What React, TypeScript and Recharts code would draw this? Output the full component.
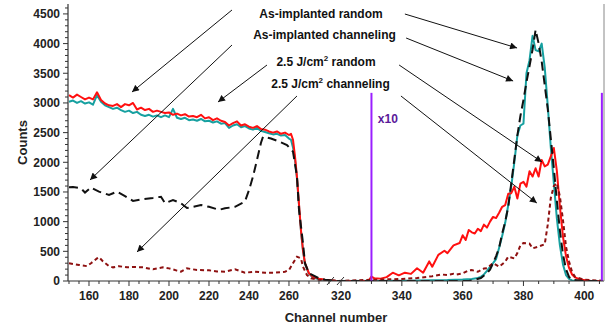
import { LineChart, Line, XAxis, YAxis, ReferenceLine, ReferenceDot } from 'recharts';

// the channel axis is broken: 150-283 on the left, 318-406.5 on the right (stretched x1.52)
const BREAK_LO = 283;
const BREAK_HI = 318;
const RIGHT_STRETCH = 1.52;
const toU = (ch: number) => (ch <= BREAK_LO ? ch : BREAK_LO + (ch - BREAK_HI) * RIGHT_STRETCH);

const CH_MIN = 149.5;
const CH_MAX = 406.5;
const COUNTS_MAX = 4667;

const xMajorTicks = [160, 180, 200, 220, 240, 260, 320, 340, 360, 380, 400];
const yMajorTicks = [0, 500, 1000, 1500, 2000, 2500, 3000, 3500, 4000, 4500];

// [channel, counts]
const asImplRandom: [number, number][] = [
    [150, 3020], [152, 3040], [154, 3000], [156, 3030], [158, 2990], [160, 3010], [162, 2970], [164, 3130],
    [166, 3020], [168, 2960], [170, 2930], [172, 2900], [174, 2920], [176, 2880], [178, 2850], [180, 2870],
    [182, 2830], [184, 2850], [186, 2800], [188, 2780], [190, 2800], [192, 2770], [194, 2790], [196, 2760],
    [198, 2790], [200, 2760], [202, 2900], [204, 2750], [206, 2730], [208, 2750], [210, 2710], [212, 2720],
    [214, 2700], [216, 2730], [218, 2690], [220, 2700], [222, 2670], [224, 2690], [226, 2650], [228, 2660],
    [230, 2580], [232, 2620], [234, 2640], [236, 2590], [238, 2610], [240, 2570], [242, 2550], [244, 2580],
    [246, 2530], [248, 2510], [250, 2490], [252, 2470], [254, 2480], [256, 2450], [258, 2460], [260, 2400],
    [261, 2380], [262, 2250], [263, 2050], [264, 1720], [265, 1280], [266, 840], [267, 510], [268, 290],
    [270, 120], [272, 60], [275, 30], [278, 15], [283, 5],
    [318, 0], [340, 5], [355, 15], [360, 25], [363, 35], [365, 50], [366, 70], [367, 110], [368, 170],
    [369, 240], [370, 300], [371, 370], [372, 560], [373, 760], [374, 980], [375, 1280], [376, 1600],
    [377, 2000], [378, 2450], [379, 2620], [380, 2650], [381, 3500], [382, 3720], [383, 4130], [384, 3890],
    [385, 3870], [386, 4000], [387, 3600], [388, 2950], [389, 2250], [390, 1650], [391, 1050], [392, 600],
    [393, 280], [394, 100], [395, 35], [396, 10], [400, 3], [406, 0],
];

const asImplChanneling: [number, number][] = [
    [150, 1580], [152, 1585], [156, 1560], [158, 1490], [161, 1575], [165, 1505], [170, 1450], [174, 1505],
    [178, 1430], [182, 1350], [187, 1380], [192, 1400], [196, 1420], [198, 1310], [202, 1365], [206, 1310],
    [209, 1230], [212, 1250], [216, 1280], [220, 1250], [225, 1200], [228, 1225], [233, 1250], [238, 1340],
    [240, 1530], [242, 1760], [244, 2040], [246, 2330], [247, 2430], [251, 2400], [255, 2350], [259, 2290],
    [262, 2180], [264, 1760], [265, 1200], [267, 640], [268, 300], [270, 130], [275, 45], [278, 20], [283, 5],
    [318, 0], [362, 0], [364, 20], [366, 50], [368, 130], [369, 190], [370, 300], [371, 420], [372, 560],
    [373, 800], [374, 1000], [375, 1250], [376, 1650], [377, 2050], [378, 2450], [379, 2780], [380, 3050],
    [381, 3350], [382, 3620], [383, 3900], [384, 4230], [385, 4000], [386, 3700], [387, 3300], [388, 2900],
    [389, 2400], [390, 1900], [391, 1350], [392, 850], [393, 450], [394, 200], [395, 70], [396, 20],
    [400, 0], [406, 0],
];

const laserRandom: [number, number][] = [
    [150, 3130], [152, 3090], [154, 3140], [156, 3100], [158, 3060], [160, 3090], [162, 3060], [164, 3180],
    [166, 3050], [168, 2990], [170, 2960], [172, 2950], [174, 2980], [176, 2930], [178, 2980], [180, 2960],
    [182, 3000], [184, 2890], [186, 2920], [188, 2880], [190, 2900], [192, 2850], [194, 2870], [196, 2850],
    [198, 2830], [200, 2840], [202, 2800], [204, 2820], [206, 2790], [208, 2810], [210, 2770], [212, 2780],
    [214, 2760], [216, 2800], [218, 2740], [220, 2760], [222, 2710], [224, 2740], [226, 2700], [228, 2680],
    [230, 2620], [232, 2660], [234, 2690], [236, 2620], [238, 2640], [240, 2600], [242, 2580], [244, 2610],
    [246, 2560], [248, 2550], [250, 2520], [252, 2500], [254, 2520], [256, 2480], [258, 2500], [260, 2460],
    [261, 2480], [262, 2380], [263, 2100], [264, 1750], [265, 1300], [266, 850], [267, 520], [268, 300],
    [270, 130], [272, 70], [275, 40], [278, 20], [283, 5],
    [318, 0], [329, 0], [330, 75], [331, 45], [333, 40], [335, 65], [337, 140], [339, 95], [341, 140],
    [343, 120], [345, 215], [347, 140], [349, 330], [350, 240], [352, 440], [354, 510], [355, 470],
    [357, 600], [359, 640], [360, 770], [361, 690], [362, 860], [363, 820], [364, 800], [365, 880],
    [366, 840], [367, 950], [368, 900], [369, 1000], [370, 1080], [371, 1060], [372, 1150], [373, 1250],
    [374, 1280], [375, 1470], [376, 1480], [377, 1590], [378, 1390], [379, 1640], [380, 1670], [381, 1590],
    [382, 1850], [383, 1760], [384, 1900], [385, 1760], [386, 2040], [387, 1930], [388, 1960], [389, 2100],
    [390, 2240], [391, 1850], [392, 1250], [393, 750], [394, 420], [395, 220], [396, 110], [397, 60],
    [399, 20], [402, 5], [406, 0],
];

const laserChanneling: [number, number][] = [
    [150, 300], [155, 270], [159, 250], [161, 300], [164, 380], [165, 400], [167, 330], [170, 250],
    [172, 230], [175, 250], [179, 230], [182, 236], [187, 230], [192, 197], [197, 230], [200, 213],
    [204, 175], [206, 157], [209, 213], [214, 185], [220, 180], [224, 160], [228, 157], [233, 197],
    [238, 140], [243, 157], [248, 140], [253, 140], [258, 157], [260, 185], [262, 300], [264, 410],
    [266, 380], [267, 240], [269, 100], [271, 45], [275, 20], [283, 5],
    [318, 0], [330, 20], [340, 35], [345, 50], [350, 80], [353, 110], [355, 100], [357, 120], [358, 110],
    [360, 130], [362, 180], [363, 185], [365, 155], [367, 210], [368, 215], [370, 300], [372, 240],
    [374, 325], [375, 410], [377, 380], [378, 470], [379, 600], [380, 640], [382, 630], [383, 550],
    [385, 580], [387, 620], [388, 950], [389, 1400], [390, 1600], [391, 1650], [392, 1420], [393, 1030],
    [394, 580], [395, 330], [396, 150], [397, 70], [400, 20], [406, 5],
];

// x10 region markers
const x10Channels = [330, 405.8];
const x10Height = 3170;

// annotation arrows: [channel, counts] start -> end
const arrows: { from: [number, number]; to: [number, number] }[] = [
    { from: [231.5, 4566], to: [181.5, 3184] },
    { from: [341, 4498], to: [377.9, 3926] },
    { from: [231.5, 3976], to: [160.5, 1702] },
    { from: [341.4, 4094], to: [376.6, 3370] },
    { from: [249, 3639], to: [224.5, 3016] },
    { from: [339.1, 3639], to: [386.1, 2005] },
    { from: [264, 3117], to: [184, 489] },
    { from: [339.7, 3117], to: [384.4, 1314] },
];

const notes = [
    { ch: 276, counts: 4439, pre: 'As-implanted random' },
    { ch: 277.75, counts: 4077, pre: 'As-implanted channeling' },
    { ch: 278.5, counts: 3622, pre: '2.5 J/cm', sup: '2', post: ' random' },
    { ch: 280.75, counts: 3252, pre: '2.5 J/cm', sup: '2', post: ' channeling' },
];

const FONT = '"Liberation Sans", Arial, sans-serif';

const toPoints = (pairs: [number, number][]) => pairs.map(([ch, counts]) => ({ u: toU(ch), counts }));

const xMinor: number[] = [];
for (let c = 150; c <= 280; c += 5) xMinor.push(c);
for (let c = 320; c <= 405; c += 5) xMinor.push(c);
const xLabelByKey = new Map(xMajorTicks.map((c) => [Math.round(toU(c) * 100), String(c)]));
const xTicks = Array.from(new Set([...xMinor, ...xMajorTicks])).map(toU);

const yTicks: number[] = [];
for (let v = 0; v <= 4600; v += 100) yTicks.push(v);

function XTick(props: any) {
    const { x, y, payload } = props;
    const label = xLabelByKey.get(Math.round(payload.value * 100));
    return (
        <g>
            <line x1={x} x2={x} y1={y} y2={y + (label ? 5 : 3)} stroke="#333" strokeWidth={1} />
            {label && (
                <text x={x} y={y + 18.5} textAnchor="middle" fontFamily={FONT} fontWeight="bold" fontSize={12} fill="#222">
                    {label}
                </text>
            )}
        </g>
    );
}

function YTick(props: any) {
    const { x, y, payload } = props;
    const major = payload.value % 500 === 0;
    return (
        <g>
            <line x1={x - (major ? 5 : 3)} x2={x} y1={y} y2={y} stroke="#333" strokeWidth={1} />
            {major && (
                <text x={x - 8} y={y + 4.3} textAnchor="end" fontFamily={FONT} fontWeight="bold" fontSize={12} fill="#222">
                    {payload.value}
                </text>
            )}
        </g>
    );
}

export default function App() {
    return (
        <div style={{ position: 'absolute', left: 0, top: 0, width: 606, height: 324, background: '#fff' }}>
            <LineChart width={606} height={324} margin={{ top: 4, right: 0, bottom: 0, left: 0 }}>
                <defs>
                    <marker id="arrowHead" viewBox="0 0 10 10" refX="10" refY="5" markerWidth="9" markerHeight="7"
                        markerUnits="userSpaceOnUse" orient="auto">
                        <path d="M0,0 L10,5 L0,10 z" fill="#111" />
                    </marker>
                </defs>
                <XAxis
                    type="number"
                    dataKey="u"
                    domain={[toU(CH_MIN), toU(CH_MAX)]}
                    allowDataOverflow
                    ticks={xTicks}
                    interval={0}
                    tick={(p: any) => <XTick {...p} />}
                    tickSize={0}
                    tickMargin={0}
                    tickLine={false}
                    axisLine={{ stroke: '#333', strokeWidth: 1.2 }}
                    height={43}
                    label={{
                        content: ({ viewBox }: any) => (
                            <text x={viewBox.x + viewBox.width / 2} y={viewBox.y + 40.5} textAnchor="middle"
                                fontFamily={FONT} fontWeight="bold" fontSize={13} fill="#222">
                                Channel number
                            </text>
                        ),
                    }}
                />
                <XAxis xAxisId="top" orientation="top" type="number" domain={[0, 1]} height={0}
                    tick={false} tickLine={false} axisLine={{ stroke: '#888' }} />
                <YAxis
                    type="number"
                    domain={[0, COUNTS_MAX]}
                    allowDataOverflow
                    ticks={yTicks}
                    interval={0}
                    tick={(p: any) => <YTick {...p} />}
                    tickSize={0}
                    tickMargin={0}
                    tickLine={false}
                    axisLine={{ stroke: '#333', strokeWidth: 1.2 }}
                    width={68}
                    label={{
                        content: ({ viewBox }: any) => {
                            const cx = viewBox.x + 27;
                            const cy = viewBox.y + viewBox.height / 2;
                            return (
                                <text x={cx} y={cy} transform={`rotate(-90 ${cx} ${cy})`} textAnchor="middle"
                                    fontFamily={FONT} fontWeight="bold" fontSize={13} fill="#222">
                                    Counts
                                </text>
                            );
                        },
                    }}
                />
                <YAxis yAxisId="right" orientation="right" type="number" domain={[0, 1]} width={2}
                    tick={false} tickLine={false} axisLine={{ stroke: '#888' }} />

                <Line data={toPoints(asImplRandom)} dataKey="counts" stroke="#16a0a0" strokeWidth={2} dot={false}
                    isAnimationActive={false} strokeLinejoin="round" />
                <Line data={toPoints(laserRandom)} dataKey="counts" stroke="#ff1010" strokeWidth={2} dot={false}
                    isAnimationActive={false} strokeLinejoin="round" />
                <Line data={toPoints(laserChanneling)} dataKey="counts" stroke="#8e1010" strokeWidth={2} dot={false}
                    strokeDasharray="4 3" isAnimationActive={false} />
                <Line data={toPoints(asImplChanneling)} dataKey="counts" stroke="#111" strokeWidth={2} dot={false}
                    strokeDasharray="9 5" isAnimationActive={false} />

                {x10Channels.map((ch) => (
                    <ReferenceLine key={ch} segment={[{ x: toU(ch), y: 0 }, { x: toU(ch), y: x10Height }]}
                        stroke="#9a1fff" strokeWidth={2} ifOverflow="visible" />
                ))}
                <ReferenceDot x={toU(332.1)} y={2662} ifOverflow="visible"
                    shape={(p: any) => (
                        <text x={p.cx} y={p.cy} fontFamily={FONT} fontWeight="bold" fontSize={12} fill="#5a1a9a">x10</text>
                    )} />

                <ReferenceLine x={toU(BREAK_LO)} ifOverflow="visible"
                    shape={(p: any) => {
                        const yb = Math.max(p.y1, p.y2);
                        const x = p.x1;
                        return (
                            <g stroke="#333" strokeWidth={1}>
                                <line x1={x - 8} y1={yb + 4} x2={x - 1} y2={yb - 4} />
                                <line x1={x + 2} y1={yb + 4} x2={x + 9} y2={yb - 4} />
                            </g>
                        );
                    }} />

                {arrows.map((a, i) => (
                    <ReferenceLine key={`arrow-${i}`} ifOverflow="visible"
                        segment={[{ x: toU(a.from[0]), y: a.from[1] }, { x: toU(a.to[0]), y: a.to[1] }]}
                        shape={(p: any) => (
                            <line x1={p.x1} y1={p.y1} x2={p.x2} y2={p.y2} stroke="#111" strokeWidth={1}
                                markerEnd="url(#arrowHead)" />
                        )} />
                ))}

                {notes.map((n) => (
                    <ReferenceDot key={n.pre + (n.post || '')} x={toU(n.ch)} y={n.counts} ifOverflow="visible"
                        shape={(p: any) => (
                            <text x={p.cx} y={p.cy} textAnchor="middle" fontFamily={FONT} fontWeight="bold"
                                fontSize={12} fill="#111">
                                {n.pre}
                                {n.sup && <tspan dy={-5} fontSize={8}>{n.sup}</tspan>}
                                {n.post && <tspan dy={5}>{n.post}</tspan>}
                            </text>
                        )} />
                ))}
            </LineChart>
        </div>
    );
}
